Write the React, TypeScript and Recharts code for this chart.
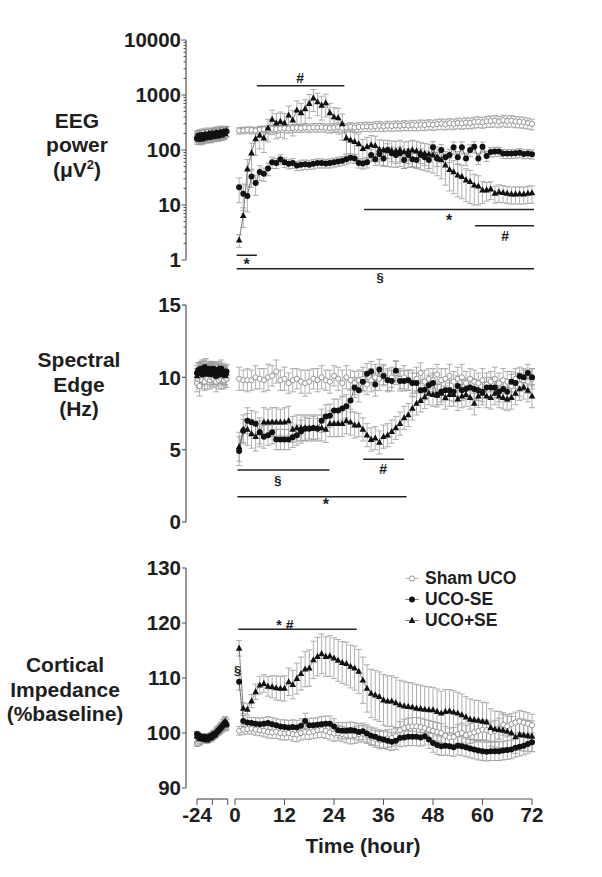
import React from 'react';
import { ComposedChart, Line, XAxis, YAxis, ErrorBar, ReferenceLine, ReferenceDot } from 'recharts';

const FONT = '"Liberation Sans", Arial, Helvetica, sans-serif';

// ---------- time bases ----------
const HOURS = [1,2,3,4,5,6,7,8,9,10,11,12,13,14,15,16,17,18,19,20,21,22,23,24,25,26,27,28,29,30,31,32,33,34,35,36,37,38,39,40,41,42,43,44,45,46,47,48,49,50,51,52,53,54,55,56,57,58,59,60,61,62,63,64,65,66,67,68,69,70,71,72];
const BASE_HOURS = [-24,-23,-22,-21,-20,-19,-18,-17,-16,-15,-14,-13,-12,-11,-10,-9,-8,-7,-6,-5,-4,-3,-2,-1];

// ---------- EEG power ----------
const EEG_SHAM = [225,228,232,230,226,234,238,236,242,240,246,248,244,250,254,250,256,252,258,255,260,254,250,256,262,252,258,264,256,262,266,270,264,272,276,268,278,272,280,276,284,278,286,280,290,284,294,288,296,302,294,306,298,312,304,316,310,322,328,318,332,336,342,330,348,336,342,330,326,320,310,298];
const EEG_SHAM_ERR = [30,32,30,34,32,36,34,38,36,40,38,40,42,40,44,42,44,46,44,48,46,44,48,46,50,48,46,50,48,52,50,52,50,54,56,52,56,54,58,56,58,56,60,58,62,60,62,60,64,66,62,66,64,68,66,70,68,72,74,70,76,78,80,76,82,78,80,76,74,72,70,66];
const EEG_UCOSE = [21,16,14.5,33,25,40,37,46,60,58,68,60,56,58,52,54,55,54,56,58,58,57,58,60,62,64,68,72,70,58,57,60,81,68,85,70,100,87,81,87,66,81,68,66,81,74,66,112,70,100,74,81,112,74,112,70,100,115,70,115,78,92,94,94,86,86,86,87,89,85,86,84];
const EEG_UCOSE_ERR = [10,8,7,12,10,12,10,12,14,12,14,12,11,12,10,11,11,10,11,11,11,10,11,11,12,12,13,14,13,11,12,13,20,16,24,18,30,26,24,26,20,24,20,20,24,22,20,30,20,26,20,22,28,20,28,18,24,26,16,24,16,18,18,18,16,16,16,16,17,16,16,16];
const EEG_UCOPSE = [2.3,6.4,45,88,160,185,165,250,360,310,330,310,430,350,530,475,560,700,880,750,650,720,475,400,385,300,165,152,142,130,106,115,124,120,103,100,100,97,96,100,93,96,100,96,90,87,84,81,74,66,53,44,40,35,33,28.5,26.6,23,22,18.7,18.7,19.5,16.3,17.2,16.8,16.3,15.8,15.8,15.9,15.8,16.3,16.6];
const EEG_UCOPSE_ERR = [0.6,2.5,22,45,80,80,75,110,170,150,160,150,200,170,250,230,260,320,380,330,300,320,230,190,190,150,80,75,70,65,50,55,60,58,50,50,50,48,48,50,47,48,50,48,46,45,44,43,40,36,30,26,24,21,20,17,16,13,12,8,7,7,5.5,6,5.8,5.6,5.4,5.4,5.5,5.4,5.6,5.8];
const EEG_BASE_SHAM = [185,170,198,188,165,204,178,192,210,182,200,172,206,214,186,196,222,194,204,226,210,196,216,222];
const EEG_BASE_SHAM_ERR = [38,34,40,37,33,39,36,40,42,37,40,36,41,44,38,40,45,41,42,46,43,40,44,46];
const EEG_BASE_UCOSE = [162,182,158,174,188,164,180,192,168,186,196,172,188,200,178,194,206,182,198,210,190,204,212,216];
const EEG_BASE_UCOSE_ERR = [34,38,33,36,39,34,37,40,35,38,41,36,39,42,37,40,43,38,41,44,40,42,44,45];
const EEG_BASE_UCOPSE = [176,160,186,170,158,182,194,170,188,198,176,190,202,180,196,208,184,200,212,190,206,216,198,222];
const EEG_BASE_UCOPSE_ERR = [37,33,39,35,33,38,40,35,39,41,37,40,42,38,41,43,39,42,44,40,43,45,41,46];

// ---------- Spectral edge ----------
const SE_SHAM = [9.9,9.8,9.8,9.8,10.0,9.9,9.8,10.0,10.1,10.4,9.8,9.9,9.6,9.8,9.9,9.7,9.6,9.7,9.9,9.8,10.0,9.8,9.7,10.1,9.9,9.6,10.0,9.8,9.6,9.8,9.9,9.5,9.8,10.0,9.9,10.2,9.8,10.0,10.3,9.9,10.0,9.8,9.6,9.9,10.3,9.7,9.9,9.8,10.2,9.8,9.9,10.1,9.7,9.9,10.0,9.6,9.9,9.7,9.6,9.8,9.5,9.7,9.9,9.6,9.8,9.7,9.4,9.9,9.5,9.8,9.7,9.9];
const SE_SHAM_ERR = [0.8,0.7,0.8,0.7,0.8,0.7,0.8,0.9,0.7,0.8,0.7,0.8,0.7,0.8,0.7,0.8,0.9,0.8,0.7,0.8,0.8,0.7,0.8,0.7,0.8,0.9,0.8,0.7,0.8,0.7,0.8,0.7,0.8,0.9,0.8,0.7,0.8,0.7,0.8,0.7,0.8,0.7,0.9,0.8,0.7,0.8,0.7,0.8,0.7,0.8,0.7,0.8,0.7,0.8,0.9,0.8,0.7,0.8,0.7,0.8,0.8,0.7,0.8,0.7,0.8,0.7,0.8,0.7,0.8,0.7,0.8,0.7];
const SE_UCOSE = [4.9,6.3,7.0,6.9,6.8,6.2,5.9,6.0,6.2,5.7,5.7,5.7,5.7,5.85,6.0,6.25,6.45,6.45,6.5,6.45,7.0,7.3,7.35,7.7,7.7,7.85,8.0,8.4,9.3,9.1,9.7,10.25,10.4,9.5,10.55,10.1,9.8,9.75,10.45,9.75,9.75,9.8,9.6,9.6,9.1,9.15,9.45,9.6,8.8,9.0,9.1,9.1,9.0,9.4,9.1,9.2,9.3,9.2,9.1,9.0,9.3,9.3,9.3,9.0,9.2,9.0,9.7,9.6,10.1,10.0,10.3,10.0];
const SE_UCOSE_ERR = [1.0,0.8,0.9,0.8,0.8,0.8,0.8,0.7,0.8,0.7,0.7,0.7,0.7,0.7,0.7,0.8,0.8,0.7,0.8,0.7,0.8,0.8,0.8,0.8,0.8,0.8,0.8,0.8,0.7,0.8,0.7,0.7,0.7,0.8,0.7,0.7,0.7,0.7,0.7,0.7,0.7,0.7,0.7,0.7,0.7,0.7,0.7,0.7,0.7,0.7,0.7,0.7,0.7,0.7,0.7,0.7,0.7,0.7,0.7,0.7,0.7,0.7,0.7,0.7,0.7,0.7,0.7,0.7,0.6,0.6,0.6,0.6];
const SE_UCOPSE = [5.2,6.4,6.4,6.1,5.9,6.2,6.9,6.9,6.9,6.9,6.9,6.9,7.0,6.4,6.5,6.5,6.5,6.5,6.5,6.5,6.5,6.4,6.8,6.8,6.8,6.8,7.0,6.9,6.7,6.7,6.4,6.0,5.7,5.8,5.5,5.9,6.0,6.25,6.5,6.8,7.2,7.4,7.85,8.2,8.4,8.65,8.9,8.8,8.75,8.9,8.6,8.8,8.8,8.5,8.7,8.8,8.6,8.2,8.7,8.9,8.7,8.6,8.9,8.7,8.6,8.5,8.6,8.9,9.2,9.3,9.1,8.7];
const SE_UCOPSE_ERR = [1.0,1.0,1.1,1.0,1.0,1.0,1.0,0.9,1.0,1.0,0.9,1.0,1.0,0.9,0.9,0.9,0.9,0.9,0.9,0.9,0.9,0.9,0.9,0.9,0.9,0.9,0.9,0.9,0.9,0.8,0.8,0.8,0.8,0.8,0.8,0.8,0.8,0.8,0.8,0.8,0.8,0.8,0.8,0.8,0.8,0.8,0.8,0.8,0.8,0.8,0.8,0.8,0.8,0.8,0.8,0.8,0.8,0.8,0.8,0.8,0.8,0.8,0.8,0.8,0.8,0.8,0.8,0.8,0.8,0.8,0.8,0.8];
const SE_BASE_SHAM = [9.6,9.9,9.4,10.0,9.8,10.2,9.7,10.1,9.9,10.3,9.8,10.0,10.2,9.9,10.1,9.7,10.0,9.8,10.2,9.9,10.1,9.8,10.0,9.9];
const SE_BASE_SHAM_ERR = [0.6,0.6,0.7,0.6,0.6,0.7,0.6,0.6,0.7,0.6,0.6,0.6,0.7,0.6,0.6,0.7,0.6,0.6,0.6,0.7,0.6,0.6,0.6,0.6];
const SE_BASE_UCOSE = [10.3,10.5,10.4,10.6,10.2,10.5,10.7,10.4,10.3,10.6,10.5,10.2,10.4,10.6,10.3,10.1,10.5,10.4,10.2,10.6,10.3,10.4,10.2,10.4];
const SE_BASE_UCOSE_ERR = [0.5,0.5,0.6,0.5,0.5,0.6,0.5,0.5,0.6,0.5,0.5,0.5,0.6,0.5,0.5,0.6,0.5,0.5,0.5,0.6,0.5,0.5,0.5,0.5];
const SE_BASE_UCOPSE = [10.1,10.4,10.3,10.5,10.6,10.3,10.4,10.7,10.2,10.5,10.3,10.6,10.2,10.4,10.5,10.1,10.3,10.6,10.4,10.2,10.5,10.3,10.1,10.3];
const SE_BASE_UCOPSE_ERR = [0.5,0.6,0.5,0.5,0.6,0.5,0.5,0.6,0.5,0.5,0.6,0.5,0.5,0.6,0.5,0.5,0.6,0.5,0.5,0.6,0.5,0.5,0.6,0.5];

// ---------- Cortical impedance ----------
const IMP_SHAM = [100.4,100.6,100.7,100.8,100.6,100.5,100.4,100.2,100.1,100.2,100.0,99.9,100.0,99.8,99.7,100.0,100.2,100.1,100.3,100.5,100.6,100.4,100.1,99.9,100.0,99.8,99.6,99.5,99.6,99.8,99.9,99.6,99.2,98.9,98.7,98.8,99.0,99.1,99.4,100.5,100.9,101.1,101.2,101.2,101.1,100.9,100.6,100.4,100.2,100.0,99.5,99.2,99.3,99.8,100.0,99.6,99.9,100.1,100.4,100.6,100.5,100.2,100.4,100.8,101.5,101.2,101.6,101.9,102.1,101.9,101.7,101.4];
const IMP_SHAM_ERR = [0.8,0.9,0.9,1.0,1.0,1.0,1.1,1.1,1.1,1.2,1.2,1.2,1.2,1.3,1.3,1.3,1.3,1.3,1.3,1.4,1.4,1.4,1.4,1.4,1.4,1.4,1.4,1.5,1.5,1.5,1.5,1.5,1.5,1.5,1.6,1.6,1.6,1.6,1.6,1.6,1.6,1.6,1.6,1.6,1.6,1.6,1.7,1.7,1.7,1.7,1.7,1.7,1.7,1.7,1.8,1.8,1.8,1.8,1.8,1.8,1.8,1.8,1.9,1.9,1.9,1.9,1.9,1.9,2.0,2.0,2.0,2.0];
const IMP_UCOSE = [109.3,102.2,101.9,101.8,101.7,101.6,101.7,101.8,101.6,101.4,101.2,101.1,101.0,101.1,101.0,101.3,102.2,101.4,101.4,101.5,101.6,101.7,101.7,101.2,100.5,100.4,100.4,100.5,100.4,100.2,100.3,99.9,99.5,99.3,99.0,98.8,98.6,98.4,98.6,99.1,99.2,99.3,99.3,99.3,99.2,99.4,98.8,98.2,97.8,97.6,97.7,97.6,97.4,97.7,97.6,97.4,97.2,97.0,96.8,96.7,96.6,96.7,96.7,96.7,96.8,96.9,97.0,97.3,97.5,97.7,98.0,98.3];
const IMP_UCOSE_ERR = [1.5,1.0,1.0,1.0,1.1,1.1,1.1,1.2,1.2,1.2,1.2,1.3,1.3,1.3,1.3,1.3,1.4,1.3,1.3,1.3,1.4,1.4,1.4,1.4,1.4,1.5,1.5,1.5,1.5,1.5,1.5,1.6,1.6,1.6,1.6,1.6,1.6,1.6,1.6,1.6,1.6,1.6,1.6,1.6,1.6,1.6,1.6,1.7,1.7,1.7,1.7,1.7,1.7,1.7,1.7,1.7,1.7,1.7,1.7,1.7,1.7,1.7,1.7,1.7,1.7,1.7,1.7,1.7,1.7,1.7,1.7,1.7];
const IMP_UCOPSE = [115.4,104.5,104.3,105.8,107.5,108.7,109.0,108.5,108.4,108.2,108.1,108.1,109.3,108.8,109.9,110.8,111.6,111.8,113.3,113.9,114.4,113.9,114.0,113.6,113.2,112.8,112.6,112.1,111.8,111.2,109.6,108.1,107.2,106.9,106.6,106.0,105.8,105.8,105.5,105.1,104.9,104.8,104.7,104.5,104.4,104.3,104.2,104.2,103.9,103.6,103.9,104.0,103.8,103.6,103.3,102.9,102.5,102.4,102.3,102.1,102.0,101.0,100.7,100.6,100.5,100.3,100.0,99.3,99.7,99.6,99.5,99.4];
const IMP_UCOPSE_ERR = [1.4,1.0,1.0,1.2,1.4,1.6,1.6,1.8,2.0,2.2,2.2,2.3,2.5,2.6,2.8,3.0,3.2,3.3,3.4,3.5,3.6,3.6,3.7,3.7,3.8,3.8,3.9,3.9,4.0,4.0,4.2,4.3,4.4,4.5,4.5,4.6,4.6,4.6,4.6,4.5,4.5,4.4,4.4,4.3,4.3,4.2,4.2,4.1,4.1,4.0,4.0,3.9,3.9,3.8,3.8,3.7,3.7,3.6,3.6,3.5,3.5,3.4,3.3,3.3,3.2,3.1,3.0,3.0,2.9,2.9,2.8,2.8];
const IMP_BASE_SHAM = [98.0,98.1,98.3,98.5,98.7,98.9,99.0,99.1,99.0,99.2,99.3,99.2,99.4,99.6,99.8,100.0,100.2,100.4,100.6,100.8,101.0,101.2,101.4,101.2];
const IMP_BASE_SHAM_ERR = [0.4,0.4,0.5,0.5,0.5,0.5,0.6,0.6,0.6,0.6,0.6,0.6,0.6,0.7,0.7,0.7,0.7,0.7,0.7,0.8,0.8,0.8,0.8,0.8];
const IMP_BASE_UCOSE = [99.8,99.6,99.4,99.3,99.2,99.0,99.3,99.1,98.9,99.2,99.4,99.3,99.6,99.8,99.7,100.0,100.3,100.5,100.8,101.0,101.3,101.6,101.9,101.5];
const IMP_BASE_UCOSE_ERR = [0.5,0.5,0.5,0.6,0.6,0.6,0.6,0.6,0.6,0.6,0.6,0.7,0.7,0.7,0.7,0.7,0.7,0.8,0.8,0.8,0.8,0.8,0.9,0.9];
const IMP_BASE_UCOPSE = [99.5,99.3,99.0,99.2,98.9,99.1,98.8,99.0,98.7,99.0,99.2,99.1,99.4,99.6,99.8,100.1,100.4,100.6,100.9,101.2,101.5,101.8,102.1,101.8];
const IMP_BASE_UCOPSE_ERR = [0.5,0.5,0.6,0.6,0.6,0.6,0.6,0.6,0.6,0.7,0.7,0.7,0.7,0.7,0.7,0.8,0.8,0.8,0.8,0.8,0.9,0.9,0.9,0.9];

// ---------- ticks / labels ----------
const LOG_TICKS = [1,2,3,4,5,6,7,8,9,10,20,30,40,50,60,70,80,90,100,200,300,400,500,600,700,800,900,1000,2000,3000,4000,5000,6000,7000,8000,9000,10000];
const LOG_MAJOR = [1,10,100,1000,10000];
const SE_TICKS = [0,5,10,15];
const IMP_TICKS = [90,100,110,120,130];
const X_MAIN_TICKS = [0,12,24,36,48,60,72];
const X_BASE_TICKS = [-24,-12,0];
const X_BASE_LABELS = ['-24','',''];
const LEGEND_NAMES = ['Sham UCO','UCO-SE','UCO+SE'];

// ---------- significance annotations (x in hours, y in data units) ----------
const EEG_BARS = [
  { x1: 5.3, x2: 26.5, y: 1476 },
  { x1: 31.3, x2: 72.5, y: 8.3 },
  { x1: 58.2, x2: 72.5, y: 4.2 },
  { x1: 0.4, x2: 5.3, y: 1.22 },
  { x1: 0.4, x2: 72.5, y: 0.695 },
];
const EEG_MARKS = [
  { x: 15.8, y: 2037, text: '#' },
  { x: 51.9, y: 5.3, text: '*' },
  { x: 65.5, y: 2.77, text: '#' },
  { x: 2.8, y: 0.85, text: '*' },
  { x: 35.2, y: 0.48, text: '§' },
];
const SE_BARS = [
  { x1: 0.6, x2: 22.9, y: 3.59 },
  { x1: 31.1, x2: 41, y: 4.33 },
  { x1: 0.6, x2: 41.6, y: 1.75 },
];
const SE_MARKS = [
  { x: 10.4, y: 2.85, text: '§' },
  { x: 35.9, y: 3.63, text: '#' },
  { x: 22.0, y: 1.2, text: '*' },
];
const IMP_BARS = [{ x1: 0.8, x2: 29.5, y: 118.85 }];
const IMP_MARKS = [
  { x: 12.1, y: 119.7, text: '* #' },
  { x: 0.65, y: 111.4, text: '§' },
];

// ---------- geometry ----------
const XMIN = -11.88;
const XMAX = 73.94;
const bx = (h: number) => -9.21 + (h + 24) * 0.31; // compressed baseline segment
const idx = (h: number) => h;

type Pt = { x: number; y: number; e: number };
const mk = (hours: number[], vals: number[], errs: number[], map: (h: number) => number): Pt[] =>
  vals.map((v, i) => ({ x: map(hours[i]), y: v, e: errs[i] }));

const AXIS = '#555';
const TXT = '#1e1e1e';
const EB = '#9a9a9a';

const openDot = (p: any) =>
  p.cx == null ? <g key={`o${p.index}`} /> : (
    <circle key={`o${p.index}`} cx={p.cx} cy={p.cy} r={2.6} fill="#fff" stroke="#8a8a8a" strokeWidth={0.9} />
  );
const fillDot = (p: any) =>
  p.cx == null ? <g key={`f${p.index}`} /> : <circle key={`f${p.index}`} cx={p.cx} cy={p.cy} r={3} fill="#111" />;
const triDot = (p: any) =>
  p.cx == null ? <g key={`t${p.index}`} /> : (
    <polygon
      key={`t${p.index}`}
      points={`${p.cx},${p.cy - 3.7} ${p.cx - 3.3},${p.cy + 2.4} ${p.cx + 3.3},${p.cy + 2.4}`}
      fill="#111"
    />
  );

const KIND = {
  sham: { stroke: '#b0b0b0', dot: openDot },
  ucose: { stroke: '#444', dot: fillDot },
  ucopse: { stroke: '#666', dot: triDot },
};

type Group = { kind: 'sham' | 'ucose' | 'ucopse'; data: Pt[] };

const renderSeries = (groups: Group[], prefix: string) =>
  groups.map((g, i) => (
    <Line
      key={`${prefix}${i}`}
      data={g.data}
      dataKey="y"
      type="linear"
      stroke={KIND[g.kind].stroke}
      strokeWidth={0.8}
      dot={KIND[g.kind].dot}
      activeDot={false}
      isAnimationActive={false}
      legendType="none"
    >
      <ErrorBar dataKey="e" direction="y" width={3} stroke={EB} strokeWidth={0.8} />
    </Line>
  ));

const symSize = (t: string) => (t === '§' ? 13 : t === '*' ? 16 : 14);

const renderBars = (bars: { x1: number; x2: number; y: number }[], prefix: string) =>
  bars.map((b, i) => (
    <ReferenceLine
      key={`${prefix}${i}`}
      segment={[{ x: b.x1, y: b.y }, { x: b.x2, y: b.y }]}
      stroke="#222"
      strokeWidth={1.5}
      ifOverflow="visible"
    />
  ));

const renderMarks = (marks: { x: number; y: number; text: string }[], prefix: string) =>
  marks.map((m, i) => (
    <ReferenceDot
      key={`${prefix}${i}`}
      x={m.x}
      y={m.y}
      r={0}
      fill="none"
      stroke="none"
      ifOverflow="visible"
      label={{ value: m.text, position: 'center', fill: '#222', fontSize: symSize(m.text), fontWeight: 700, fontFamily: FONT }}
    />
  ));

const LogTick = (props: any) => {
  const { x, y, payload } = props;
  const v = payload.value;
  const major = LOG_MAJOR.indexOf(v) >= 0;
  const ax = x + 5;
  return (
    <g>
      <line x1={ax - (major ? 4.5 : 2.5)} x2={ax} y1={y} y2={y} stroke={AXIS} strokeWidth={1} />
      {major ? (
        <text x={ax - 5} y={y} dy="0.36em" textAnchor="end" fill={TXT} fontSize={20.5} fontWeight={700} fontFamily={FONT}>
          {v}
        </text>
      ) : null}
    </g>
  );
};

const tickStyle = { fontSize: 20.5, fontWeight: 700, fill: TXT, fontFamily: FONT };

const xTicks = [...X_BASE_TICKS.map(bx), ...X_MAIN_TICKS];
const xLabel = (v: number) => {
  for (let i = 0; i < X_BASE_TICKS.length; i++) {
    if (Math.abs(bx(X_BASE_TICKS[i]) - v) < 1e-6) return X_BASE_LABELS[i];
  }
  return String(v);
};

const eegGroups: Group[] = [
  { kind: 'sham', data: mk(BASE_HOURS, EEG_BASE_SHAM, EEG_BASE_SHAM_ERR, bx) },
  { kind: 'sham', data: mk(HOURS, EEG_SHAM, EEG_SHAM_ERR, idx) },
  { kind: 'ucopse', data: mk(BASE_HOURS, EEG_BASE_UCOPSE, EEG_BASE_UCOPSE_ERR, bx) },
  { kind: 'ucopse', data: mk(HOURS, EEG_UCOPSE, EEG_UCOPSE_ERR, idx) },
  { kind: 'ucose', data: mk(BASE_HOURS, EEG_BASE_UCOSE, EEG_BASE_UCOSE_ERR, bx) },
  { kind: 'ucose', data: mk(HOURS, EEG_UCOSE, EEG_UCOSE_ERR, idx) },
];
const seGroups: Group[] = [
  { kind: 'sham', data: mk(BASE_HOURS, SE_BASE_SHAM, SE_BASE_SHAM_ERR, bx) },
  { kind: 'sham', data: mk(HOURS, SE_SHAM, SE_SHAM_ERR, idx) },
  { kind: 'ucopse', data: mk(BASE_HOURS, SE_BASE_UCOPSE, SE_BASE_UCOPSE_ERR, bx) },
  { kind: 'ucopse', data: mk(HOURS, SE_UCOPSE, SE_UCOPSE_ERR, idx) },
  { kind: 'ucose', data: mk(BASE_HOURS, SE_BASE_UCOSE, SE_BASE_UCOSE_ERR, bx) },
  { kind: 'ucose', data: mk(HOURS, SE_UCOSE, SE_UCOSE_ERR, idx) },
];
const impGroups: Group[] = [
  { kind: 'sham', data: mk(BASE_HOURS, IMP_BASE_SHAM, IMP_BASE_SHAM_ERR, bx) },
  { kind: 'sham', data: mk(HOURS, IMP_SHAM, IMP_SHAM_ERR, idx) },
  { kind: 'ucopse', data: mk(BASE_HOURS, IMP_BASE_UCOPSE, IMP_BASE_UCOPSE_ERR, bx) },
  { kind: 'ucopse', data: mk(HOURS, IMP_UCOPSE, IMP_UCOPSE_ERR, idx) },
  { kind: 'ucose', data: mk(BASE_HOURS, IMP_BASE_UCOSE, IMP_BASE_UCOSE_ERR, bx) },
  { kind: 'ucose', data: mk(HOURS, IMP_UCOSE, IMP_UCOSE_ERR, idx) },
];

const labelStyle = (top: number, width: number): React.CSSProperties => ({
  position: 'absolute',
  left: 0,
  top,
  width,
  textAlign: 'center',
  fontFamily: FONT,
  fontWeight: 700,
  fontSize: 21,
  lineHeight: '24.5px',
  color: TXT,
});

const LegendMarker = ({ k }: { k: number }) => (
  <svg width={20} height={21} style={{ display: 'block' }}>
    <line x1={3} x2={17} y1={10.5} y2={10.5} stroke={k === 0 ? '#b0b0b0' : '#666'} strokeWidth={0.8} />
    {k === 0 && <circle cx={10} cy={10.5} r={2.6} fill="#fff" stroke="#8a8a8a" strokeWidth={0.9} />}
    {k === 1 && <circle cx={10} cy={10.5} r={3} fill="#111" />}
    {k === 2 && <polygon points="10,6.8 6.7,12.9 13.3,12.9" fill="#111" />}
  </svg>
);

export default function App() {
  return (
    <div style={{ position: 'absolute', left: 0, top: 0, width: 602, height: 877, background: '#fff', overflow: 'hidden' }}>
      {/* EEG power */}
      <div style={{ position: 'absolute', left: 0, top: 0 }}>
        <ComposedChart width={602} height={300} margin={{ top: 40, right: 62, bottom: 40, left: 0 }}>
          <XAxis type="number" dataKey="x" domain={[XMIN, XMAX]} allowDataOverflow hide />
          <YAxis
            type="number"
            scale="log"
            domain={[1, 10000]}
            allowDataOverflow
            ticks={LOG_TICKS}
            interval={0}
            width={186}
            stroke={AXIS}
            strokeWidth={1.2}
            tickLine={false}
            tickSize={4}
            tickMargin={1}
            tick={<LogTick />}
          />
          {renderSeries(eegGroups, 'eeg')}
          {renderBars(EEG_BARS, 'eb')}
          {renderMarks(EEG_MARKS, 'em')}
        </ComposedChart>
      </div>

      {/* Spectral edge */}
      <div style={{ position: 'absolute', left: 0, top: 290 }}>
        <ComposedChart width={602} height={250} margin={{ top: 15, right: 62, bottom: 18, left: 0 }}>
          <XAxis type="number" dataKey="x" domain={[XMIN, XMAX]} allowDataOverflow hide />
          <YAxis
            type="number"
            domain={[0, 15]}
            allowDataOverflow
            ticks={SE_TICKS}
            interval={0}
            width={186}
            stroke={AXIS}
            strokeWidth={1.2}
            tickSize={4}
            tickMargin={1}
            tick={tickStyle}
          />
          {renderSeries(seGroups, 'se')}
          {renderBars(SE_BARS, 'sb')}
          {renderMarks(SE_MARKS, 'sm')}
        </ComposedChart>
      </div>

      {/* Cortical impedance */}
      <div style={{ position: 'absolute', left: 0, top: 550 }}>
        <ComposedChart width={602} height={327} margin={{ top: 18, right: 62, bottom: 0, left: 0 }}>
          <XAxis
            type="number"
            dataKey="x"
            domain={[XMIN, XMAX]}
            allowDataOverflow
            ticks={xTicks}
            interval={0}
            tickFormatter={xLabel}
            height={78}
            axisLine={false}
            stroke={AXIS}
            tickSize={6}
            tickMargin={2}
            tick={tickStyle}
            label={{ value: 'Time (hour)', position: 'insideBottom', offset: 24, fill: TXT, fontSize: 21, fontWeight: 700, fontFamily: FONT }}
          />
          <YAxis
            type="number"
            domain={[88, 130]}
            allowDataOverflow
            ticks={IMP_TICKS}
            interval={0}
            width={186}
            stroke={AXIS}
            axisLine={false}
            tickSize={4}
            tickMargin={1}
            tick={tickStyle}
          />
          <ReferenceLine segment={[{ x: XMIN, y: 90 }, { x: XMIN, y: 130 }]} stroke={AXIS} strokeWidth={1.2} ifOverflow="visible" />
          <ReferenceLine segment={[{ x: bx(-24), y: 88 }, { x: bx(0), y: 88 }]} stroke={AXIS} strokeWidth={1.2} ifOverflow="visible" />
          <ReferenceLine segment={[{ x: 0, y: 88 }, { x: 72, y: 88 }]} stroke={AXIS} strokeWidth={1.2} ifOverflow="visible" />
          {renderSeries(impGroups, 'im')}
          {renderBars(IMP_BARS, 'ib')}
          {renderMarks(IMP_MARKS, 'imk')}
        </ComposedChart>
      </div>

      {/* y-axis titles */}
      <div style={labelStyle(108.5, 154)}>
        EEG<br />power<br />(μV<span style={{ fontSize: 13, verticalAlign: 'top', lineHeight: '14px' }}>2</span>)
      </div>
      <div style={labelStyle(348, 158)}>
        Spectral<br />Edge<br />(Hz)
      </div>
      <div style={labelStyle(653, 130)}>
        Cortical<br />Impedance<br />(%baseline)
      </div>

      {/* legend */}
      <div style={{ position: 'absolute', left: 402, top: 567.5, fontFamily: FONT, fontWeight: 700, fontSize: 17.5, color: TXT, lineHeight: '21px' }}>
        {LEGEND_NAMES.map((n, k) => (
          <div key={n} style={{ display: 'flex', alignItems: 'center', height: 21 }}>
            <LegendMarker k={k} />
            <span style={{ marginLeft: 3 }}>{n}</span>
          </div>
        ))}
      </div>
    </div>
  );
}
